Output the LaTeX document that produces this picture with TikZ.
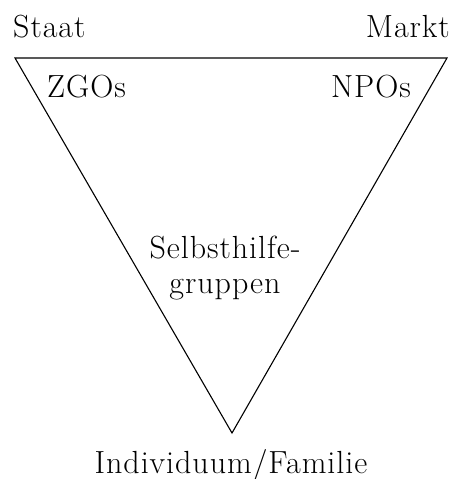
\documentclass[tikz,border=0pt]{standalone}
\usepackage{fontspec}
\setmainfont{Latin Modern Roman}[LetterSpace=3]
\usepackage{tikz}
\usetikzlibrary{positioning,calc}

\begin{document}
\begin{tikzpicture}[
      x=1pt, y=-1pt,
      every node/.style = {inner sep=0pt, font=\fontsize{32}{35}\selectfont},
      sector/.style = {line width=1.1pt, line join=miter}
    ]
    \useasboundingbox (0,0) rectangle (454,479);
    \coordinate (staatEcke) at (15,58);
    \coordinate (marktEcke) at (447,58);
    \coordinate (familieEcke) at (232,433);
    \draw[sector] (staatEcke) -- (marktEcke) -- (familieEcke) -- cycle;
    \node[anchor=base west] (staat) at (13,37) {Staat};
    \node[anchor=base east] (markt) at (450,37) {Markt};
    \node[anchor=base west] (zgo) at (47,97) {ZGOs};
    \node[anchor=base east] (npo) at (411,97) {NPOs};
    \node[anchor=base, align=center] (shg) at (225,293) {Selbsthilfe-\\gruppen};
    \node[anchor=base] (familie) at (231,473) {Individuum/Familie};
  \end{tikzpicture}
\end{document}
